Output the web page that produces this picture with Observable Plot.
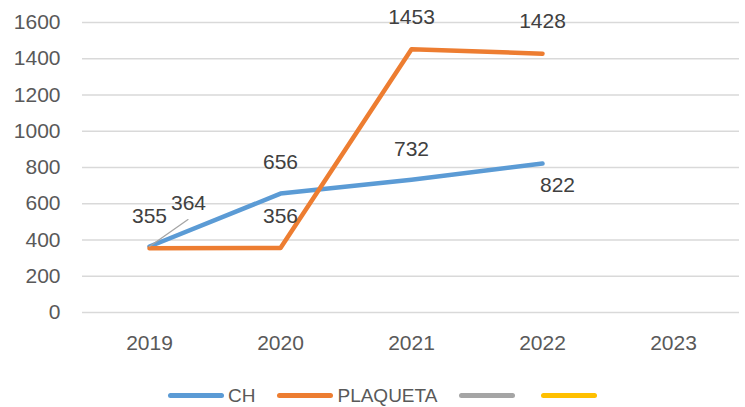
<!DOCTYPE html>
<html>
<head>
<meta charset="utf-8">
<script src="https://cdn.jsdelivr.net/npm/d3@7"></script>
<script src="https://cdn.jsdelivr.net/npm/@observablehq/plot@0.6"></script>
<style>
  body { margin: 0; background: #fff; font-family: "Liberation Sans", Arial, sans-serif; }
  #legend { display: flex; align-items: center; margin-top: 12px; height: 23px; padding-left: 168px; font-size: 19px; color: #595959; }
  .item { display: flex; align-items: center; margin-right: 22px; }
  .swatch { width: 56px; height: 5px; border-radius: 3px; margin-right: 4px; }
</style>
</head>
<body>
<div id="chart"></div>
<script>
const years = ["2019", "2020", "2021", "2022", "2023"];
const dataYears = ["2019", "2020", "2021", "2022"];
const chValues = [364, 656, 732, 822];
const plaquetaValues = [355, 356, 1453, 1428];
const yTicks = [0, 200, 400, 600, 800, 1000, 1200, 1400, 1600];
const seriesNames = ["CH", "PLAQUETA", "", ""];
const seriesColors = ["#5B9BD5", "#ED7D31", "#A5A5A5", "#FFC000"];

const ch = dataYears.map((y, i) => ({year: y, value: chValues[i]}));
const plaq = dataYears.map((y, i) => ({year: y, value: plaquetaValues[i]}));

const leader = {
  draw(context, l) { context.moveTo(0, 0); context.lineTo(0, -l); }
};

const chart = Plot.plot({
  width: 745,
  height: 372,
  marginLeft: 82,
  marginRight: 6,
  marginTop: 22,
  marginBottom: 60,
  style: {fontFamily: "'Liberation Sans', Arial, sans-serif", fontSize: "21px", color: "#595959", background: "#fff"},
  x: {type: "point", domain: years, padding: 0.5, label: null},
  y: {domain: [0, 1600], label: null},
  marks: [
    Plot.gridY(yTicks, {stroke: "#D9D9D9", strokeOpacity: 1, strokeWidth: 1.3}),
    Plot.axisY(yTicks, {tickSize: 0, tickPadding: 22, fontSize: 21, fill: "#595959", tickFormat: d => String(d), label: null}),
    Plot.axisX(years, {tickSize: 0, tickPadding: 23, fontSize: 21, fill: "#595959", label: null}),
    Plot.line(ch, {x: "year", y: "value", stroke: seriesColors[0], strokeWidth: 4.5, strokeLinejoin: "round", strokeLinecap: "round"}),
    Plot.line(plaq, {x: "year", y: "value", stroke: seriesColors[1], strokeWidth: 4.5, strokeLinejoin: "round", strokeLinecap: "round"}),
    Plot.vector(ch.slice(0, 1), {x: "year", y: "value", length: 47, rotate: 55, anchor: "start", shape: leader, stroke: "#A5A5A5", strokeWidth: 1.3}),
    Plot.text(ch.slice(0, 1), {x: "year", y: "value", text: d => String(d.value), dx: 39, dy: -43, fontSize: 21, fill: "#404040"}),
    Plot.text(ch.slice(1, 3), {x: "year", y: "value", text: d => String(d.value), dy: -31, fontSize: 21, fill: "#404040"}),
    Plot.text(ch.slice(3), {x: "year", y: "value", text: d => String(d.value), dx: 15, dy: 22, fontSize: 21, fill: "#404040"}),
    Plot.text(plaq, {x: "year", y: "value", text: d => String(d.value), dy: -32, fontSize: 21, fill: "#404040"})
  ]
});
document.getElementById("chart").appendChild(chart);

const legend = document.createElement("div");
legend.id = "legend";
seriesNames.forEach((name, i) => {
  const item = document.createElement("div");
  item.className = "item";
  const sw = document.createElement("div");
  sw.className = "swatch";
  sw.style.background = seriesColors[i];
  item.appendChild(sw);
  if (name) {
    const t = document.createElement("span");
    t.textContent = name;
    item.appendChild(t);
  }
  legend.appendChild(item);
});
document.body.appendChild(legend);
</script>
</body>
</html>
